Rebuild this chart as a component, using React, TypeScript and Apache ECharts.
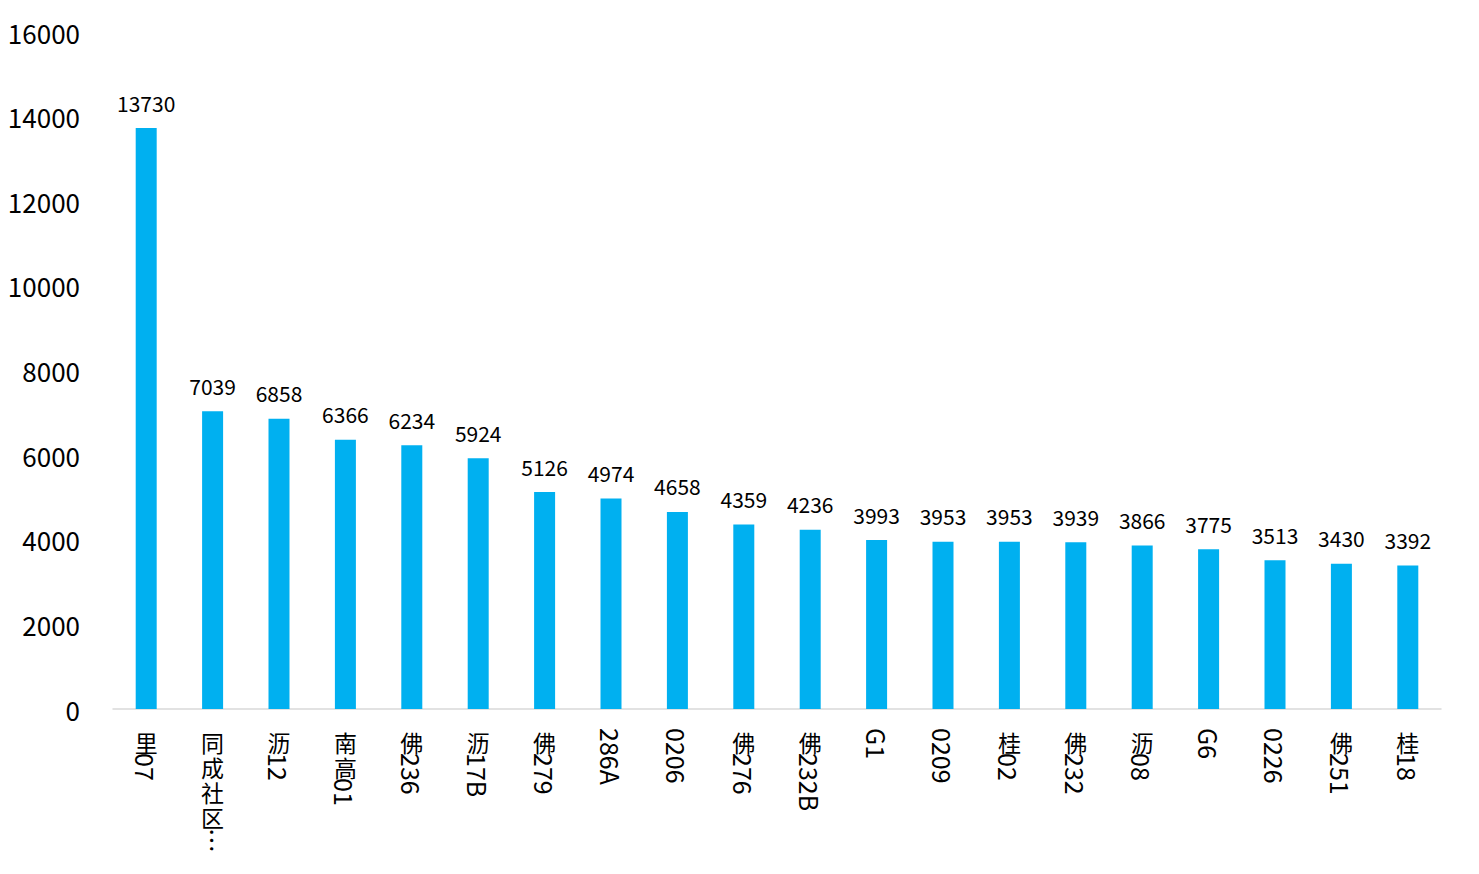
import React, { useEffect, useRef } from "react";
import * as echarts from "echarts";

const categories = [
  "里07", "同成社区…", "沥12", "南高01", "佛236", "沥17B", "佛279", "286A", "0206", "佛276",
  "佛232B", "G1", "0209", "桂02", "佛232", "沥08", "G6", "0226", "佛251", "桂18",
];
const values = [
  13730, 7039, 6858, 6366, 6234, 5924, 5126, 4974, 4658, 4359,
  4236, 3993, 3953, 3953, 3939, 3866, 3775, 3513, 3430, 3392,
];
const yMin = 0;
const yMax = 16000;
const yInterval = 2000;

const FONT = "'Noto Sans CJK SC', 'Noto Sans', sans-serif";
const CJK_STEP = 25;

function splitLabel(s: string): [string, string] {
  let i = 0;
  while (i < s.length && s.charCodeAt(i) > 127 && s[i] !== "…") i++;
  return [s.slice(0, i), s.slice(i)];
}

export default function App() {
  const ref = useRef<HTMLDivElement>(null);
  useEffect(() => {
    if (!ref.current) return;
    const chart = echarts.init(ref.current, undefined, { renderer: "svg" });
    const rich: Record<string, any> = {
      t: { fontSize: 25, fontFamily: FONT, color: "#000" },
    };
    for (let n = 1; n <= 6; n++) {
      rich["s" + n] = {
        fontSize: 25,
        fontFamily: FONT,
        width: n * CJK_STEP,
        color: "rgba(0,0,0,0)",
      };
    }
    chart.setOption({
      animation: false,
      backgroundColor: "#ffffff",
      grid: { left: 113, right: 38, top: 32, bottom: 165, containLabel: false },
      xAxis: [
        {
          type: "category",
          data: categories,
          axisLine: { show: true, lineStyle: { color: "#d9d9d9", width: 1.5 } },
          axisTick: { show: false },
          axisLabel: {
            interval: 0,
            rotate: -90,
            margin: 19,
            formatter: (v: string) => {
              const [head, tail] = splitLabel(v);
              if (!tail) return "";
              const pad = head.length ? "{s" + head.length + "| }" : "";
              return pad + "{t|" + tail + "}";
            },
            rich,
          },
        },
        {
          type: "category",
          data: categories,
          position: "bottom",
          axisLine: { show: false },
          axisTick: { show: false },
          axisLabel: {
            interval: 0,
            rotate: 0,
            margin: 20,
            fontSize: 23,
            lineHeight: CJK_STEP,
            fontFamily: FONT,
            color: "#000",
            formatter: (v: string) => splitLabel(v)[0].split("").join("\n"),
          },
        },
      ],
      yAxis: {
        type: "value",
        min: yMin,
        max: yMax,
        interval: yInterval,
        axisLine: { show: false },
        axisTick: { show: false },
        splitLine: { show: false },
        axisLabel: {
          margin: 33,
          fontSize: 26,
          fontFamily: FONT,
          color: "#000",
          formatter: (v: number) => String(v),
        },
      },
      series: [
        {
          type: "bar",
          xAxisIndex: 0,
          data: values,
          barWidth: 21,
          itemStyle: { color: "#00b0f0" },
          label: {
            show: true,
            position: "top",
            distance: 15,
            fontSize: 21,
            fontFamily: FONT,
            color: "#000",
          },
        },
      ],
    });
    return () => chart.dispose();
  }, []);
  return (
    <div
      ref={ref}
      style={{ position: "absolute", left: 0, top: 0, width: 1479, height: 874 }}
    />
  );
}
